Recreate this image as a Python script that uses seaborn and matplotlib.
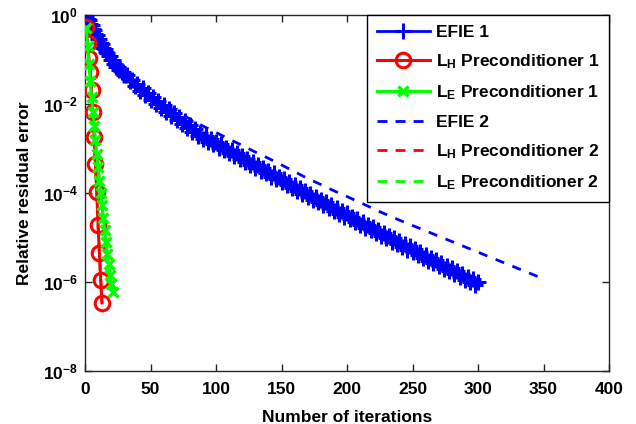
import numpy as np
import pandas as pd
import matplotlib
matplotlib.use("Agg")
import matplotlib.pyplot as plt
import seaborn as sns
from matplotlib.ticker import FixedLocator, FixedFormatter, NullLocator

# ---------------- data (log10 of relative residual) ----------------
efie1_iter = list(range(0, 31)) + list(range(32, 301, 2))
efie1_log = [0.00, -0.03, -0.10, -0.12, -0.20, -0.22, -0.31, -0.33, -0.42, -0.44,
             -0.53, -0.55, -0.64, -0.65, -0.74, -0.76, -0.84, -0.85, -0.93, -0.93,
             -1.01, -1.02, -1.09, -1.10, -1.16, -1.16, -1.23, -1.22, -1.29, -1.28,
             -1.35,
             -1.34, -1.49, -1.45, -1.60, -1.55, -1.70, -1.65, -1.80, -1.75, -1.90,
             -1.85, -2.00, -1.94, -2.09, -2.03, -2.18, -2.12, -2.27, -2.21, -2.36,
             -2.30, -2.45, -2.39, -2.54, -2.48, -2.63, -2.57, -2.72, -2.65, -2.78,
             -2.72, -2.85, -2.78, -2.91, -2.85, -2.98, -2.91, -3.04, -2.98, -3.11,
             -3.04, -3.17, -3.11, -3.24, -3.17, -3.30, -3.24, -3.37, -3.30, -3.43,
             -3.37, -3.50, -3.43, -3.56, -3.50, -3.63, -3.56, -3.69, -3.63, -3.76,
             -3.69, -3.82, -3.76, -3.89, -3.82, -3.95, -3.89, -4.02, -3.95, -4.08,
             -4.02, -4.15, -4.08, -4.21, -4.15, -4.28, -4.21, -4.34, -4.28, -4.41,
             -4.34, -4.47, -4.40, -4.53, -4.46, -4.59, -4.53, -4.66, -4.59, -4.72,
             -4.65, -4.78, -4.71, -4.84, -4.77, -4.90, -4.83, -4.96, -4.89, -5.02,
             -4.96, -5.09, -5.02, -5.15, -5.08, -5.21, -5.14, -5.27, -5.20, -5.33,
             -5.26, -5.39, -5.32, -5.46, -5.39, -5.52, -5.45, -5.58, -5.51, -5.64,
             -5.57, -5.70, -5.63, -5.76, -5.69, -5.83, -5.76, -5.89, -5.82, -5.95,
             -5.88, -6.01, -5.94, -6.07, -6.00]

lh1_iter = [1, 2, 3, 4, 5, 6, 7, 8, 9, 10, 11, 12, 13]
lh1_log = [-0.26, -0.64, -0.97, -1.27, -1.69, -2.17, -2.75, -3.35, -3.98, -4.72, -5.35,
           -5.95, -6.47]

le1_iter = [1, 2, 3, 4, 5, 6, 7, 8, 9, 10, 11, 12, 13, 14, 15, 16, 17, 18, 19, 20, 21]
le1_log = [-0.30, -0.70, -1.10, -1.48, -1.85, -2.18, -2.50, -2.82, -3.12, -3.42, -3.72,
           -4.00, -4.28, -4.56, -4.84, -5.10, -5.36, -5.60, -5.84, -6.04, -6.22]

efie2_iter = [0, 4, 8, 12, 16, 20, 25, 30, 35, 40, 45, 51, 57, 63, 70, 76, 82, 89, 100,
              110, 120, 130, 140, 150, 160, 169, 180, 190, 200, 212, 225, 240, 255, 270,
              285, 300, 315, 330, 340, 350]
efie2_log = [0.00, -0.17, -0.40, -0.62, -0.82, -0.99, -1.17, -1.31, -1.44, -1.55, -1.66,
             -1.80, -1.93, -2.05, -2.17, -2.27, -2.37, -2.48, -2.64, -2.79, -2.93, -3.08,
             -3.22, -3.37, -3.52, -3.66, -3.81, -3.95, -4.08, -4.24, -4.42, -4.61, -4.79,
             -4.97, -5.15, -5.33, -5.51, -5.69, -5.81, -5.93]

lh2_iter = [1, 2, 3, 4, 5, 6, 7, 8, 9, 10, 11, 12, 13]
lh2_log = [-0.27, -0.65, -0.98, -1.28, -1.70, -2.18, -2.76, -3.36, -3.99, -4.73, -5.36,
           -5.96, -6.48]

le2_iter = [1, 2, 3, 4, 5, 6, 7, 8, 9, 10, 11, 12, 13, 14, 15, 16, 17, 18, 19, 20, 21]
le2_log = [-0.31, -0.71, -1.11, -1.49, -1.86, -2.19, -2.51, -2.83, -3.13, -3.43, -3.73,
           -4.01, -4.29, -4.57, -4.85, -5.11, -5.37, -5.61, -5.85, -6.05, -6.23]

labels = ["EFIE 1", r"L$_H$ Preconditioner 1", r"L$_E$ Preconditioner 1",
          "EFIE 2", r"L$_H$ Preconditioner 2", r"L$_E$ Preconditioner 2"]

x_ticks = [0, 50, 100, 150, 200, 250, 300, 350, 400]
y_ticks = [1e-8, 1e-6, 1e-4, 1e-2, 1e0]
y_ticklabels = [r"$10^{-8}$", r"$10^{-6}$", r"$10^{-4}$", r"$10^{-2}$", r"$10^{0}$"]

# ---------------- style ----------------
plt.rcParams["font.family"] = ["Liberation Sans", "DejaVu Sans"]
plt.rcParams["font.weight"] = "bold"
plt.rcParams["mathtext.default"] = "regular"
plt.rcParams["axes.linewidth"] = 1.0

fig = plt.figure(figsize=(6.36, 4.24), dpi=100)
ax = fig.add_axes([85 / 636, 1 - 371 / 424, (609 - 85) / 636, (371 - 15) / 424])


def frame(it, lg):
    return pd.DataFrame({"it": it, "res": 10.0 ** np.asarray(lg, dtype=float)})


blue, red, green = "#0000FF", "#FF0000", "#00FF00"
dash = (3.3, 3.2)

# second set (dashed), drawn underneath
for it, lg, col, lab in [(efie2_iter, efie2_log, blue, labels[3]),
                         (lh2_iter, lh2_log, red, labels[4]),
                         (le2_iter, le2_log, green, labels[5])]:
    sns.lineplot(data=frame(it, lg), x="it", y="res", ax=ax, color=col, linewidth=2,
                 estimator=None, sort=False, label=lab, zorder=2)
    ax.lines[-1].set_dashes(dash)

# first set (solid with markers)
sns.lineplot(data=frame(efie1_iter, efie1_log), x="it", y="res", ax=ax, color=blue,
             linewidth=2, marker="+", markersize=12, markeredgewidth=2.2,
             markeredgecolor=blue, estimator=None, sort=False, label=labels[0], zorder=3)
sns.lineplot(data=frame(lh1_iter, lh1_log), x="it", y="res", ax=ax, color=red,
             linewidth=2.2, marker="o", markersize=10.5, markeredgewidth=2.2,
             markeredgecolor=red, markerfacecolor="none", estimator=None, sort=False,
             label=labels[1], zorder=4)
sns.lineplot(data=frame(le1_iter, le1_log), x="it", y="res", ax=ax, color=green,
             linewidth=2.2, marker="x", markersize=7, markeredgewidth=2.4,
             markeredgecolor=green, estimator=None, sort=False, label=labels[2], zorder=5)

ax.set_yscale("log")
ax.set_xlim(0, 400)
ax.set_ylim(1e-8, 1e0)
ax.xaxis.set_major_locator(FixedLocator(x_ticks))
ax.yaxis.set_major_locator(FixedLocator(y_ticks))
ax.yaxis.set_major_formatter(FixedFormatter(y_ticklabels))
ax.yaxis.set_minor_locator(NullLocator())
ax.xaxis.set_minor_locator(NullLocator())
ax.tick_params(which="both", direction="in", top=True, right=True, length=5,
               width=1, color="#262626", labelsize=12.5)
ax.tick_params(axis="x", pad=8)
ax.tick_params(axis="y", pad=5)
for lab in ax.get_xticklabels() + ax.get_yticklabels():
    lab.set_fontweight("bold")
for s in ax.spines.values():
    s.set_color("#262626")
    s.set_linewidth(1.0)

ax.set_xlabel("Number of iterations", fontsize=12.5, fontweight="bold", labelpad=9)
ax.set_ylabel("Relative residual error", fontsize=12.5, fontweight="bold", labelpad=8)

# legend in original order
handles, labs = ax.get_legend_handles_labels()
order = [labs.index(l) for l in labels]
leg = ax.legend([handles[i] for i in order], [labs[i] for i in order],
                loc="upper right", bbox_to_anchor=(1, 1), borderaxespad=0,
                fontsize=12.5, frameon=True, fancybox=False, framealpha=1,
                edgecolor="black", handlelength=3.05, handletextpad=0.35,
                labelspacing=0.72, borderpad=0.55, numpoints=1)
leg.get_frame().set_linewidth(1.0)
for t in leg.get_texts():
    t.set_fontweight("bold")
for h in leg.get_lines():
    if h.get_linestyle() not in ("-", "solid"):
        h.set_dashes((3.6, 2.9))

fig.savefig("out.png", dpi=100, facecolor="white")
